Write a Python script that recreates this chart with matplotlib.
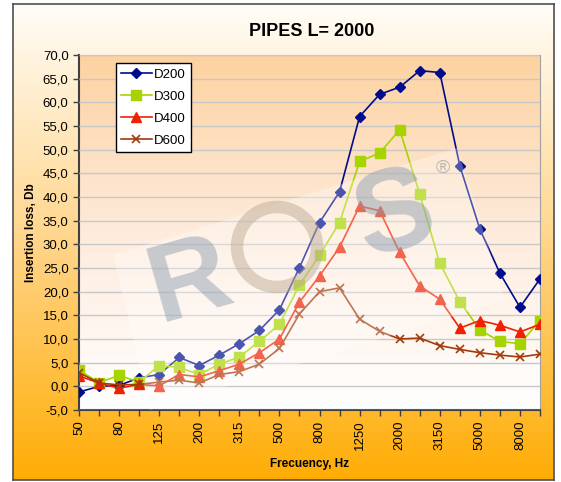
import numpy as np
import matplotlib
matplotlib.use('Agg')
import matplotlib.pyplot as plt
from matplotlib.colors import LinearSegmentedColormap
from matplotlib.patches import Polygon, Circle

plt.rcParams['font.family'] = ['Liberation Sans', 'DejaVu Sans']

# data
freqs = ['50', '63', '80', '100', '125', '160', '200', '250', '315', '400', '500', '630',
         '800', '1000', '1250', '1600', '2000', '2500', '3150', '4000', '5000', '6300', '8000', '10000']
d200 = [-1.2, 0.0, 0.2, 1.8, 2.5, 6.1, 4.4, 6.6, 9.0, 11.8, 16.2, 25.1,
        34.6, 41.1, 57.0, 61.7, 63.2, 66.7, 66.3, 46.6, 33.2, 23.9, 16.7, 22.7]
d300 = [3.4, 0.8, 2.3, 0.9, 4.4, 4.0, 2.5, 4.7, 6.2, 9.5, 13.1, 21.4,
        27.7, 34.6, 47.5, 49.3, 54.2, 40.6, 26.0, 17.9, 11.9, 9.5, 9.0, 13.9]
d400 = [2.2, 0.7, -0.4, 0.4, 0.1, 2.5, 2.0, 3.3, 4.7, 7.1, 10.0, 17.8,
        23.3, 29.4, 38.1, 37.1, 28.3, 21.2, 18.4, 12.3, 13.9, 12.9, 11.5, 13.1]
d600 = [2.9, 0.7, 0.3, 0.4, 0.9, 1.3, 0.7, 2.5, 3.1, 4.7, 8.0, 15.3,
        20.0, 20.8, 14.2, 11.6, 10.0, 10.2, 8.6, 7.8, 7.1, 6.6, 6.2, 6.8]

fig = plt.figure(figsize=(5.61, 4.82), dpi=100)

# outer background with gradient
bg = fig.add_axes([13/561, 2/482, 541/561, 476/482], zorder=-10)
cmap_bg = LinearSegmentedColormap.from_list('bg', ['#FFFDF8', '#FFD58A', '#FFAD05'])
bg.imshow(np.linspace(0, 1, 256).reshape(-1, 1), cmap=cmap_bg, aspect='auto',
          extent=[0, 1, 0, 1], origin='upper')
bg.set_xticks([])
bg.set_yticks([])
for s in bg.spines.values():
    s.set_color('#505050')
    s.set_linewidth(1.2)

ax = fig.add_axes([79/561, 1 - 410/482, 461/561, 355/482])
ax.set_facecolor('none')
cmap_pa = LinearSegmentedColormap.from_list('pa', ['#FDD2A0', '#FEEBDC', '#FFFFFF'])
ax.imshow(np.linspace(0, 1, 256).reshape(-1, 1), cmap=cmap_pa, aspect='auto',
          extent=[0, len(freqs) - 1, -5, 70], origin='upper', zorder=0)

x = np.arange(len(freqs))
ax.plot(x, d200, color='#000C8C', marker='D', markersize=5, lw=1.2, label='D200', zorder=3)
ax.plot(x, d300, color='#A6D400', marker='s', markersize=7, lw=1.2, label='D300', zorder=3)
ax.plot(x, d400, color='#F02000', marker='^', markersize=7, lw=1.2, label='D400', zorder=3)
ax.plot(x, d600, color='#A33A0A', marker='x', markersize=6, mew=1.2, lw=1.2, label='D600', zorder=3)

ax.set_xlim(0, len(freqs) - 1)
ax.set_ylim(-5, 70)
yt = np.arange(-5, 71, 5)
ax.set_yticks(yt)
ax.set_yticklabels([f'{v:.1f}'.replace('.', ',') for v in yt], fontsize=9.5)
ax.yaxis.grid(True, color='#C8C8C8', lw=1.0, zorder=1)
ax.set_axisbelow(False)
ax.set_xticks(x)
ax.set_xticklabels([f if i % 2 == 0 else '' for i, f in enumerate(freqs)],
                   rotation=90, fontsize=9.5)
ax.tick_params(axis='both', direction='out', length=4, color='#404040', width=1)

ax.spines['left'].set_color('#404040')
ax.spines['bottom'].set_color('#404040')
ax.spines['left'].set_linewidth(1.5)
ax.spines['bottom'].set_linewidth(1.5)
ax.spines['top'].set_color('#A0A0A0')
ax.spines['right'].set_color('#A0A0A0')

ax.set_xlabel('Frecuency, Hz', fontsize=8.5, fontweight='bold', labelpad=6)
ax.set_ylabel('Insertion loss, Db', fontsize=8.5, fontweight='bold', labelpad=4)
fig.text(312/561, 1 - 31/482, 'PIPES L= 2000', ha='center', va='center',
         fontsize=13, fontweight='bold')

leg = ax.legend(loc='upper left', bbox_to_anchor=(0.08, 0.977), borderaxespad=0,
                fontsize=9.5, fancybox=False, framealpha=1, edgecolor='black',
                handlelength=2.3, handletextpad=0.2, labelspacing=0.75)
leg.get_frame().set_linewidth(1.0)
leg.set_zorder(5)

# watermark logo
band = Polygon([[113/561, 1 - 255/482], [457/561, 1 - 148/482],
                [505/561, 1 - 300/482], [150/561, 1 - 410/482]],
               closed=True, transform=fig.transFigure, facecolor='white',
               edgecolor='none', alpha=0.3, zorder=1)
fig.patches.append(band)
fig.text(190/561, 1 - 283/482, 'R', ha='center', va='center', fontsize=80,
         fontweight='bold', color='#8497AA', alpha=0.45, rotation=16)
ring = Circle((2.77, 2.35), 0.40, transform=fig.dpi_scale_trans, facecolor='none',
              edgecolor='#B8A48C', lw=9, alpha=0.45, zorder=1)
fig.patches.append(ring)
fig.text(395/561, 1 - 218/482, 'S', ha='center', va='center', fontsize=84,
         fontweight='bold', color='#8497AA', alpha=0.45, rotation=16)
fig.text(443/561, 1 - 168/482, '®', ha='center', va='center', fontsize=14,
         color='#A0A0A0', alpha=0.7)

fig.savefig('out.png', dpi=100)
